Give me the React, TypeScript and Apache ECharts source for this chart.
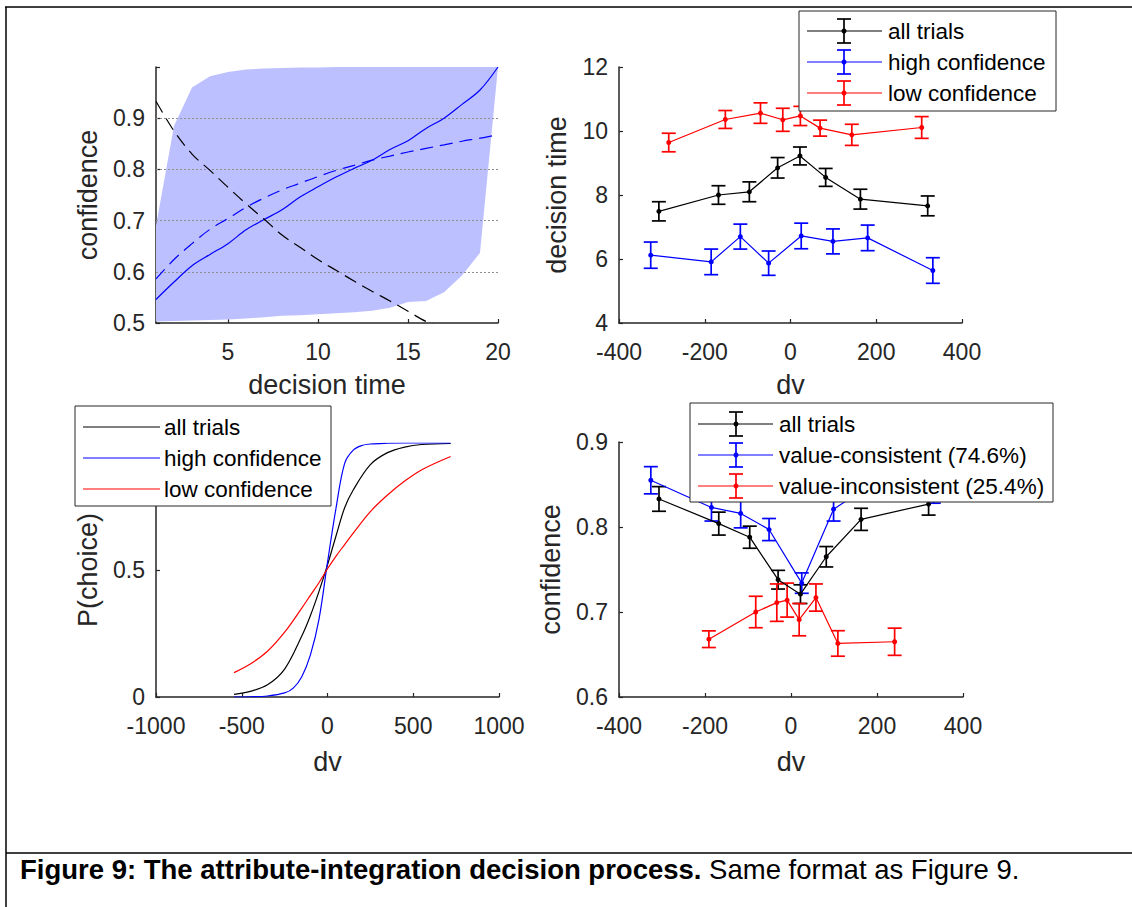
import React, { useEffect, useRef } from 'react';
import * as echarts from 'echarts';

const FONT = '"Liberation Sans", Arial, Helvetica, sans-serif';
const AXIS_COLOR = '#262626';
const TICK_FS = 23;
const NAME_FS = 27;
const LEGEND_FS = 22.5;

// ---- top-left: model confidence against decision time ----
const dtSteps = [1, 2, 3, 4, 5, 6, 7, 8, 9, 10, 11, 12, 13, 14, 15, 16, 17, 18, 19, 20];
const bandLower = [0.503, 0.504, 0.505, 0.506, 0.507, 0.509, 0.511, 0.514, 0.515, 0.517, 0.519, 0.521, 0.524, 0.530, 0.541, 0.543, 0.560, 0.593, 0.637, 1.0];
const bandUpper = [0.69, 0.885, 0.96, 0.982, 0.99, 0.995, 0.997, 0.998, 0.999, 0.999, 1, 1, 1, 1, 1, 1, 1, 1, 1, 1];
const confSolid = [0.546, 0.580, 0.612, 0.634, 0.655, 0.682, 0.702, 0.721, 0.746, 0.766, 0.785, 0.802, 0.818, 0.839, 0.856, 0.880, 0.900, 0.927, 0.955, 1.0];
const confDashed = [0.586, 0.624, 0.655, 0.683, 0.704, 0.726, 0.744, 0.760, 0.773, 0.786, 0.798, 0.808, 0.818, 0.826, 0.834, 0.841, 0.848, 0.855, 0.861, 0.868];
const confBlackDashed = [0.933, 0.875, 0.830, 0.798, 0.765, 0.733, 0.703, 0.672, 0.648, 0.624, 0.603, 0.582, 0.562, 0.543, 0.523, 0.503, 0.49, 0.48, 0.47, 0.46];
const gridLevels = [0.6, 0.7, 0.8, 0.9];
const tlTicks = [5, 10, 15, 20];

// ---- top-right: decision time against dv ----
const dvAll = [-307, -168, -96, -30, 22, 82, 163, 320];
const dtAll = [7.49, 8.0, 8.1, 8.85, 9.22, 8.55, 7.87, 7.66];
const dtAllErr = [0.30, 0.29, 0.31, 0.32, 0.28, 0.28, 0.31, 0.31];
const dvHigh = [-326, -185, -117, -51, 25, 99, 180, 332];
const dtHigh = [6.12, 5.91, 6.70, 5.87, 6.72, 6.55, 6.66, 5.64];
const dtHighErr = [0.41, 0.40, 0.39, 0.38, 0.40, 0.39, 0.40, 0.40];
const dvLow = [-284, -152, -70, -18, 23, 69, 143, 306];
const dtLow = [9.64, 10.36, 10.56, 10.35, 10.47, 10.09, 9.88, 10.11];
const dtLowErr = [0.29, 0.28, 0.32, 0.36, 0.30, 0.25, 0.33, 0.34];

// ---- bottom-left: psychometric curves ----
const dvCurve = [-545, -450, -350, -250, -150, -100, -50, 0, 50, 100, 150, 250, 350, 450, 550, 718];
const pAll = [0.01, 0.022, 0.048, 0.11, 0.24, 0.32, 0.415, 0.52, 0.635, 0.745, 0.815, 0.915, 0.962, 0.984, 0.994, 0.998];
const pLow = [0.096, 0.13, 0.18, 0.255, 0.35, 0.40, 0.45, 0.505, 0.555, 0.60, 0.645, 0.73, 0.795, 0.85, 0.895, 0.947];
const dvCurveHigh = [-545, -450, -350, -250, -200, -150, -100, -50, 0, 50, 100, 150, 200, 250, 350, 450, 718];
const pHigh = [0, 0.001, 0.004, 0.016, 0.035, 0.08, 0.165, 0.305, 0.53, 0.745, 0.92, 0.972, 0.99, 0.996, 0.999, 1, 1];

// ---- bottom-right: confidence against dv ----
const confAll = [0.833, 0.804, 0.788, 0.738, 0.721, 0.765, 0.809, 0.827];
const confAllErr = [0.0145, 0.0135, 0.013, 0.011, 0.011, 0.012, 0.013, 0.013];
const confCons = [0.855, 0.823, 0.816, 0.797, 0.734, 0.821, 0.848, 0.845];
const confConsErr = [0.016, 0.016, 0.017, 0.013, 0.012, 0.014, 0.015, 0.017];
const dvIncons = [-191, -82, -33, -9, 19, 58, 109, 241];
const confIncons = [0.668, 0.700, 0.711, 0.714, 0.691, 0.717, 0.663, 0.665];
const confInconsErr = [0.0098, 0.0185, 0.022, 0.02, 0.019, 0.016, 0.015, 0.016];

const legendTR = ['all trials', 'high confidence', 'low confidence'];
const legendBL = ['all trials', 'high confidence', 'low confidence'];
const legendBR = ['all trials', 'value-consistent (74.6%)', 'value-inconsistent (25.4%)'];
const seriesColors = ['#000000', '#0000ff', '#ff0000'];

const captionBold = 'Figure 9: The attribute-integration decision process.';
const captionRest = ' Same format as Figure 9.';

function tickLabel(extra: any = {}) {
  return { color: AXIS_COLOR, fontSize: TICK_FS, fontFamily: FONT, margin: 11, ...extra };
}

function axisBase(extra: any) {
  return {
    nameLocation: 'middle',
    axisLine: { show: true, onZero: false, lineStyle: { color: AXIS_COLOR, width: 1.5 } },
    axisTick: { show: true, inside: true, length: 4, lineStyle: { color: AXIS_COLOR, width: 1.2 } },
    axisLabel: tickLabel(),
    splitLine: { show: false },
    nameTextStyle: { color: AXIS_COLOR, fontSize: NAME_FS, fontFamily: FONT },
    ...extra,
  };
}

function pointLine(name: string, xs: number[], ys: number[], color: string, xi: number, yi: number) {
  return {
    type: 'line',
    name,
    xAxisIndex: xi,
    yAxisIndex: yi,
    data: xs.map((x, i) => [x, ys[i]]),
    symbol: 'circle',
    symbolSize: 5,
    showSymbol: true,
    itemStyle: { color },
    lineStyle: { color, width: 1.2 },
    z: 3,
  };
}

function errorBars(name: string, xs: number[], ys: number[], es: number[], color: string, xi: number, yi: number) {
  return {
    type: 'custom',
    name,
    xAxisIndex: xi,
    yAxisIndex: yi,
    data: xs.map((x, i) => [x, ys[i] - es[i], ys[i] + es[i]]),
    encode: { x: 0, y: [1, 2] },
    z: 3,
    renderItem: (_p: any, api: any) => {
      const x = api.value(0);
      const lo = api.coord([x, api.value(1)]);
      const hi = api.coord([x, api.value(2)]);
      const cap = 7;
      const style = { stroke: color, lineWidth: 1.7, fill: 'none' };
      return {
        type: 'group',
        children: [
          { type: 'line', shape: { x1: lo[0], y1: lo[1], x2: hi[0], y2: hi[1] }, style },
          { type: 'line', shape: { x1: lo[0] - cap, y1: lo[1], x2: lo[0] + cap, y2: lo[1] }, style },
          { type: 'line', shape: { x1: hi[0] - cap, y1: hi[1], x2: hi[0] + cap, y2: hi[1] }, style },
        ],
      };
    },
  };
}

function curve(name: string, xs: number[], ys: number[], color: string, xi: number, yi: number, dashed = false) {
  return {
    type: 'line',
    name,
    xAxisIndex: xi,
    yAxisIndex: yi,
    data: xs.map((x, i) => [x, ys[i]]),
    symbol: 'none',
    smooth: 0.35,
    lineStyle: { color, width: 1.2, type: dashed ? [13, 7] : 'solid' },
    z: 3,
  };
}

type LegendSpec = {
  box: [number, number, number, number];
  rows: number[];
  line: [number, number];
  err: number | null;
  textX: number;
  labels: string[];
};

function legend(spec: LegendSpec) {
  const [x, y, w, h] = spec.box;
  const children: any[] = [
    {
      type: 'rect',
      shape: { x, y, width: w, height: h },
      style: { fill: '#ffffff', stroke: AXIS_COLOR, lineWidth: 1 },
      z: 100,
    },
  ];
  spec.labels.forEach((label, i) => {
    const cy = spec.rows[i];
    const color = seriesColors[i];
    children.push({
      type: 'line',
      shape: { x1: spec.line[0], y1: cy, x2: spec.line[1], y2: cy },
      style: { stroke: color, lineWidth: 1.2 },
      z: 101,
    });
    if (spec.err !== null) {
      const ex = spec.err;
      const ls = { stroke: color, lineWidth: 1.7 };
      children.push(
        { type: 'line', shape: { x1: ex, y1: cy - 12, x2: ex, y2: cy + 12 }, style: ls, z: 101 },
        { type: 'line', shape: { x1: ex - 7, y1: cy - 12, x2: ex + 7, y2: cy - 12 }, style: ls, z: 101 },
        { type: 'line', shape: { x1: ex - 7, y1: cy + 12, x2: ex + 7, y2: cy + 12 }, style: ls, z: 101 },
        { type: 'circle', shape: { cx: ex, cy, r: 2.5 }, style: { fill: color }, z: 101 },
      );
    }
    children.push({
      type: 'text',
      x: spec.textX,
      y: cy,
      style: { text: label, fontSize: LEGEND_FS, fontFamily: FONT, fill: '#000', verticalAlign: 'middle', align: 'left' },
      z: 101,
    });
  });
  return children;
}

export default function App() {
  const ref = useRef<HTMLDivElement>(null);

  useEffect(() => {
    if (!ref.current) return;
    const chart = echarts.init(ref.current, undefined, { renderer: 'svg' });

    const option: any = {
      animation: false,
      backgroundColor: '#ffffff',
      grid: [
        { left: 156, top: 67, width: 342, height: 256 },
        { left: 619, top: 67, width: 343, height: 256 },
        { left: 156, top: 443, width: 343, height: 254 },
        { left: 619, top: 442, width: 344, height: 255 },
      ],
      xAxis: [
        axisBase({
          gridIndex: 0, type: 'value', min: 1, max: 20, name: 'decision time', nameGap: 48,
          axisTick: { show: true, inside: true, length: 4, customValues: tlTicks, lineStyle: { color: AXIS_COLOR, width: 1.2 } },
          axisLabel: tickLabel({ margin: 17, customValues: tlTicks }),
        }),
        axisBase({
          gridIndex: 1, type: 'value', min: -400, max: 400, interval: 200, name: 'dv', nameGap: 48,
          axisLabel: tickLabel({ margin: 17 }),
        }),
        axisBase({
          gridIndex: 2, type: 'value', min: -1000, max: 1000, interval: 500, name: 'dv', nameGap: 51,
          axisLabel: tickLabel({ margin: 17, formatter: (v: number) => String(v) }),
        }),
        axisBase({
          gridIndex: 3, type: 'value', min: -400, max: 400, interval: 200, name: 'dv', nameGap: 51,
          axisLabel: tickLabel({ margin: 17 }),
        }),
      ],
      yAxis: [
        axisBase({
          gridIndex: 0, type: 'value', min: 0.5, max: 1, interval: 0.1, name: 'confidence', nameGap: 55,
          axisLabel: tickLabel({ formatter: (v: number) => (v > 0.95 ? '' : v.toFixed(1)) }),
        }),
        axisBase({ gridIndex: 1, type: 'value', min: 4, max: 12, interval: 2, name: 'decision time', nameGap: 49 }),
        axisBase({
          gridIndex: 2, type: 'value', min: 0, max: 1, interval: 0.5, name: 'P(choice)', nameGap: 55,
          axisLabel: tickLabel({ formatter: (v: number) => String(v) }),
        }),
        axisBase({
          gridIndex: 3, type: 'value', min: 0.6, max: 0.9, interval: 0.1, name: 'confidence', nameGap: 55,
          axisLabel: tickLabel({ formatter: (v: number) => v.toFixed(1) }),
        }),
      ],
      series: [
        // shaded range of confidence, one polygon between the upper and lower bounds
        {
          type: 'custom',
          name: 'range',
          xAxisIndex: 0,
          yAxisIndex: 0,
          z: 1,
          data: dtSteps.map((t, i) => [t, bandLower[i], bandUpper[i]]),
          encode: { x: 0, y: [1, 2] },
          renderItem: (params: any, api: any) => {
            if (params.dataIndex !== 0) return null;
            const top = dtSteps.map((t, i) => api.coord([t, bandUpper[i]]));
            const bottom = dtSteps.map((t, i) => api.coord([t, bandLower[i]])).reverse();
            return {
              type: 'polygon',
              shape: { points: top.concat(bottom) },
              style: { fill: '#bdc0ff', stroke: 'none' },
            };
          },
        },
        {
          ...curve('solid', dtSteps, confSolid, '#0000ff', 0, 0),
          markLine: {
            silent: true, z: 2, symbol: ['none', 'none'], label: { show: false },
            lineStyle: { type: [2, 2], color: '#8f8f8f', width: 1 },
            data: gridLevels.map((v) => ({ yAxis: v })),
          },
        },
        curve('dashed', dtSteps, confDashed, '#0000ff', 0, 0, true),
        curve('black dashed', dtSteps, confBlackDashed, '#000000', 0, 0, true),

        pointLine('all trials', dvAll, dtAll, '#000000', 1, 1),
        errorBars('all trials err', dvAll, dtAll, dtAllErr, '#000000', 1, 1),
        pointLine('high confidence', dvHigh, dtHigh, '#0000ff', 1, 1),
        errorBars('high confidence err', dvHigh, dtHigh, dtHighErr, '#0000ff', 1, 1),
        pointLine('low confidence', dvLow, dtLow, '#ff0000', 1, 1),
        errorBars('low confidence err', dvLow, dtLow, dtLowErr, '#ff0000', 1, 1),

        curve('all trials p', dvCurve, pAll, '#000000', 2, 2),
        curve('high confidence p', dvCurveHigh, pHigh, '#0000ff', 2, 2),
        curve('low confidence p', dvCurve, pLow, '#ff0000', 2, 2),

        pointLine('all trials c', dvAll, confAll, '#000000', 3, 3),
        errorBars('all trials c err', dvAll, confAll, confAllErr, '#000000', 3, 3),
        pointLine('consistent', dvHigh, confCons, '#0000ff', 3, 3),
        errorBars('consistent err', dvHigh, confCons, confConsErr, '#0000ff', 3, 3),
        pointLine('inconsistent', dvIncons, confIncons, '#ff0000', 3, 3),
        errorBars('inconsistent err', dvIncons, confIncons, confInconsErr, '#ff0000', 3, 3),
      ],
      graphic: [
        // figure frame
        { type: 'line', shape: { x1: 5, y1: 7, x2: 1132, y2: 7 }, style: { stroke: '#000', lineWidth: 1.5 }, z: 50 },
        { type: 'line', shape: { x1: 6, y1: 7, x2: 6, y2: 907 }, style: { stroke: '#000', lineWidth: 1.5 }, z: 50 },
        { type: 'line', shape: { x1: 6, y1: 853, x2: 1132, y2: 853 }, style: { stroke: '#000', lineWidth: 1.5 }, z: 50 },
        ...legend({ box: [799, 11, 257, 100], rows: [31, 62, 93], line: [807, 882], err: 844, textX: 888, labels: legendTR }),
        ...legend({ box: [75, 406, 256, 100], rows: [427, 458, 489], line: [83, 160], err: null, textX: 164, labels: legendBL }),
        ...legend({ box: [690, 403, 363, 99], rows: [424, 455, 486], line: [698, 773], err: 736, textX: 779, labels: legendBR }),
        {
          type: 'text',
          x: 20,
          y: 869,
          z: 50,
          style: {
            text: `{b|${captionBold}}${captionRest}`,
            fontSize: 27.5,
            fontFamily: FONT,
            fill: '#000',
            verticalAlign: 'middle',
            rich: { b: { fontSize: 27.5, fontFamily: FONT, fontWeight: 'bold', fill: '#000' } },
          },
        },
      ],
    };

    chart.setOption(option);
    return () => chart.dispose();
  }, []);

  return (
    <div
      ref={ref}
      style={{ position: 'absolute', left: 0, top: 0, width: 1132, height: 907, background: '#fff' }}
    />
  );
}
